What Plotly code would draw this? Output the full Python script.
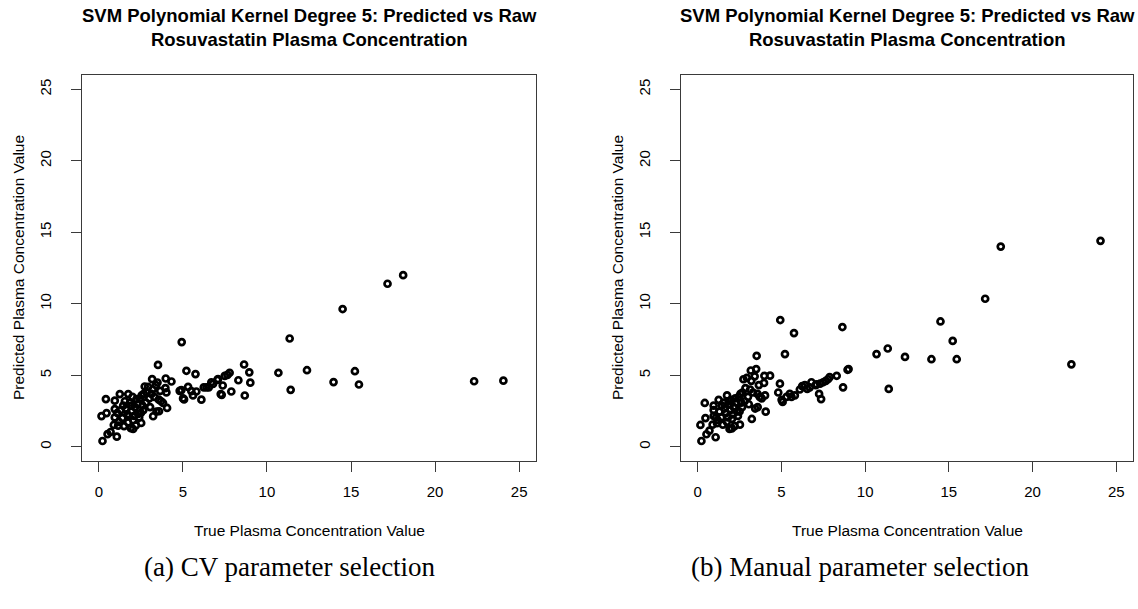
import plotly.graph_objects as go

# True plasma concentration values (shared by both panels)
true_vals = [24.06, 22.32, 18.10, 17.17, 15.47, 15.23, 14.50, 13.96, 12.38, 11.41,
             11.35, 10.68, 9.01, 8.95, 8.68, 8.64, 8.30, 7.88, 7.78, 7.65,
             7.49, 7.37, 7.31, 7.05, 6.69, 6.54, 6.24, 6.10, 5.80, 5.75,
             5.50, 5.31, 5.21, 5.07, 5.01, 4.93, 4.91, 4.81, 4.32, 4.06,
             4.02, 3.98, 3.96, 3.82, 3.58, 3.57, 3.52, 3.49, 3.43, 3.23,
             3.17, 3.13, 3.00, 2.93, 2.73, 2.67, 2.60, 2.52, 2.45, 2.34,
             2.24, 2.20, 2.10, 2.04, 1.94, 1.90, 1.75, 1.74, 1.70, 1.45,
             1.40, 1.25, 1.15, 1.07, 0.95, 0.95, 0.95, 0.89, 0.52, 0.46,
             0.42, 0.22, 0.16, 1.30, 1.55, 1.60, 1.85, 1.95, 2.00, 2.05,
             2.15, 2.30, 2.40, 2.55, 2.65, 2.80, 2.85, 3.05, 3.20, 3.30,
             3.40, 3.65, 3.70, 1.10, 1.20, 1.50, 1.80, 2.50, 0.70, 5.60,
             6.40, 6.79, 7.25, 7.09]

# (a) CV parameter selection predictions
pred_cv = [4.62, 4.58, 12.00, 11.40, 4.35, 5.28, 9.63, 4.52, 5.35, 3.98,
           7.57, 5.17, 4.48, 5.20, 3.58, 5.75, 4.65, 3.86, 5.17, 5.02,
           4.95, 4.28, 3.63, 4.67, 4.51, 4.15, 4.15, 3.29, 3.86, 5.08,
           3.89, 4.19, 5.31, 3.31, 3.38, 7.32, 3.96, 3.91, 4.56, 2.71,
           3.80, 4.77, 4.10, 3.06, 2.48, 3.29, 5.72, 4.49, 2.46, 2.13,
           4.73, 3.69, 3.38, 4.18, 4.21, 3.69, 2.87, 1.66, 3.38, 2.29,
           3.33, 1.49, 2.15, 1.24, 2.87, 1.30, 3.68, 1.70, 2.26, 2.87,
           2.00, 3.68, 1.47, 0.70, 3.22, 2.63, 2.05, 1.52, 0.88, 2.35,
           3.33, 0.40, 2.14, 2.56, 3.18, 2.67, 3.08, 2.46, 3.49, 1.85,
           2.77, 2.97, 2.05, 3.59, 2.56, 3.08, 3.79, 2.77, 4.00, 3.49,
           4.31, 3.90, 3.18, 2.36, 1.74, 1.44, 2.15, 2.36, 1.03, 3.59,
           4.15, 4.39, 3.68, 4.73]

# (b) Manual parameter selection predictions
pred_manual = [14.40, 5.76, 14.00, 10.35, 6.12, 7.40, 8.76, 6.12, 6.28, 4.04,
               6.87, 6.48, 5.43, 5.38, 4.15, 8.37, 4.96, 4.87, 4.72, 4.61,
               4.51, 3.33, 4.41, 4.31, 4.15, 4.05, 4.24, 4.00, 3.59, 7.95,
               3.69, 3.49, 6.48, 3.13, 3.28, 8.86, 4.41, 3.79, 4.97, 2.45,
               3.59, 4.96, 4.46, 3.38, 2.77, 3.69, 6.36, 5.43, 2.67, 1.94,
               5.33, 4.00, 3.49, 4.82, 4.72, 3.79, 3.08, 1.54, 3.49, 2.46,
               3.38, 1.44, 2.26, 1.28, 2.97, 1.24, 3.59, 1.74, 2.36, 2.87,
               2.05, 3.28, 1.64, 0.66, 2.87, 2.56, 2.15, 1.54, 0.87, 2.00,
               3.06, 0.40, 1.52, 2.46, 3.08, 2.67, 3.18, 2.56, 3.28, 1.95,
               2.77, 3.08, 2.15, 3.69, 2.77, 3.18, 4.10, 2.97, 4.61, 3.79,
               4.92, 4.31, 3.49, 2.05, 1.85, 1.54, 2.05, 2.46, 1.13, 3.49,
               4.31, 4.51, 3.69, 4.36]

tick_vals = [0, 5, 10, 15, 20, 25]
axis_range = [-1, 26]

main_title = "<b>SVM Polynomial Kernel Degree 5: Predicted vs Raw<br>Rosuvastatin Plasma Concentration</b>"
x_title = "True Plasma Concentration Value"
y_title = "Predicted Plasma Concentration Value"
captions = ["(a) CV parameter selection", "(b) Manual parameter selection"]

W, H = 1138, 609
SANS = "Liberation Sans, Arial, Helvetica, sans-serif"
SERIF = "Liberation Serif, Times New Roman, serif"

def fx(p):
    return p / W

def fy(p):
    return 1 - p / H

panels = [(82, 536), (681, 1133)]
box_top, box_bot = 75, 461
caption_cx = [290, 860]

fig = go.Figure()
marker = dict(symbol="circle-open", size=6, color="black", line=dict(width=2.7, color="black"))
fig.add_trace(go.Scatter(x=true_vals, y=pred_cv, mode="markers", marker=marker,
                         xaxis="x", yaxis="y", showlegend=False, hoverinfo="skip"))
fig.add_trace(go.Scatter(x=true_vals, y=pred_manual, mode="markers", marker=marker,
                         xaxis="x2", yaxis="y2", showlegend=False, hoverinfo="skip"))

def xax(dom, anchor):
    return dict(domain=dom, anchor=anchor, range=axis_range, tickvals=tick_vals,
                showline=True, mirror=True, linecolor="#3a3a3a", linewidth=1.3,
                ticks="outside", ticklen=10, tickcolor="#3a3a3a", tickwidth=1.2,
                showgrid=False, zeroline=False, ticklabelstandoff=7,
                tickfont=dict(family=SANS, size=15, color="black"))

def yax(anchor):
    return dict(domain=[fy(box_bot), fy(box_top)], anchor=anchor, range=axis_range,
                tickvals=tick_vals, tickangle=-90,
                showline=True, mirror=True, linecolor="#3a3a3a", linewidth=1.3,
                ticks="outside", ticklen=10, tickcolor="#3a3a3a", tickwidth=1.2,
                showgrid=False, zeroline=False, ticklabelstandoff=14,
                tickfont=dict(family=SANS, size=15, color="black"))

annotations = []
for i, (l, r) in enumerate(panels):
    cx = (l + r) / 2
    annotations.append(dict(text=main_title, x=fx(cx), y=fy(28), xref="paper", yref="paper",
                            xanchor="center", yanchor="middle", showarrow=False,
                            font=dict(family=SANS, size=18.5, color="black")))
    annotations.append(dict(text=x_title, x=fx(cx), y=fy(530), xref="paper", yref="paper",
                            xanchor="center", yanchor="middle", showarrow=False,
                            font=dict(family=SANS, size=15.5, color="black")))
    annotations.append(dict(text=y_title, x=fx(l - 64), y=fy((box_top + box_bot) / 2),
                            xref="paper", yref="paper", textangle=-90,
                            xanchor="center", yanchor="middle", showarrow=False,
                            font=dict(family=SANS, size=15.5, color="black")))
    annotations.append(dict(text=captions[i], x=fx(caption_cx[i]), y=fy(567), xref="paper", yref="paper",
                            xanchor="center", yanchor="middle", showarrow=False,
                            font=dict(family=SERIF, size=27, color="black")))

fig.update_layout(
    width=W, height=H,
    margin=dict(l=0, r=0, t=0, b=0),
    paper_bgcolor="white", plot_bgcolor="white",
    xaxis=xax([fx(panels[0][0]), fx(panels[0][1])], "y"),
    yaxis=yax("x"),
    xaxis2=xax([fx(panels[1][0]), fx(panels[1][1])], "y2"),
    yaxis2=yax("x2"),
    annotations=annotations,
)

fig.write_html("out.html", config={"displayModeBar": False},
               post_script="document.body.style.margin='0';")
